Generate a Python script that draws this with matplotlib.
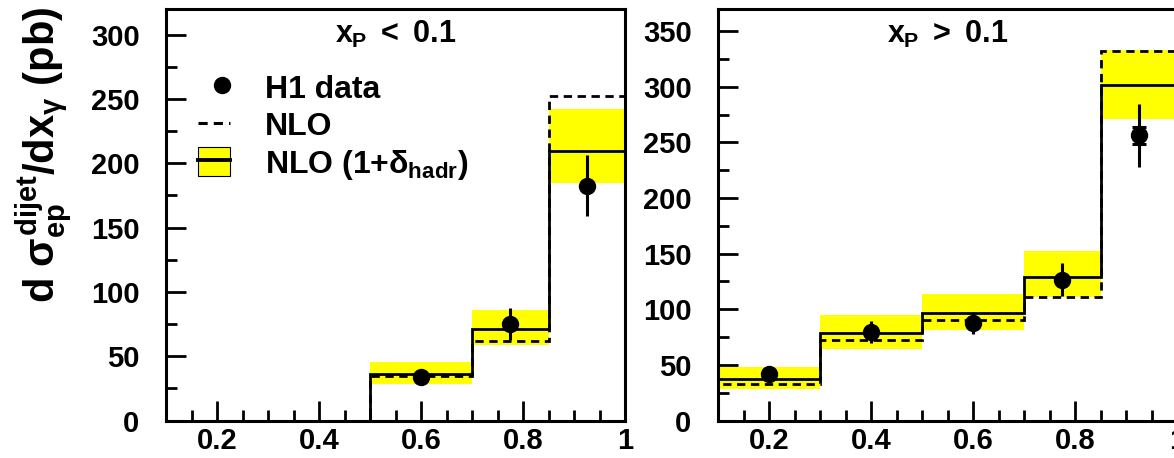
import numpy as np
import matplotlib
matplotlib.use("Agg")
import matplotlib.pyplot as plt
from matplotlib.patches import Patch
from matplotlib.lines import Line2D
from matplotlib.legend_handler import HandlerTuple
from matplotlib.ticker import MultipleLocator

plt.rcParams['font.family'] = ['Liberation Sans', 'DejaVu Sans']
plt.rcParams['font.weight'] = 'bold'
plt.rcParams['mathtext.fontset'] = 'custom'
plt.rcParams['mathtext.rm'] = 'Liberation Sans:bold'
plt.rcParams['mathtext.it'] = 'Liberation Sans:bold'
plt.rcParams['mathtext.bf'] = 'Liberation Sans:bold'
plt.rcParams['mathtext.sf'] = 'Liberation Sans'

# bin edges in x_gamma
edges = [0.1, 0.3, 0.5, 0.7, 0.85, 1.0]

# x_P < 0.1
lo_nlo = [0, 0, 34.6, 61.6, 252.3]
lo_had = [0, 0, 36.0, 71.2, 209.7]
lo_band_dn = [0, 0, 28.4, 58.8, 185.0]
lo_band_up = [0, 0, 45.8, 86.0, 242.4]
lo_x = [0.6, 0.775, 0.925]
lo_y = [33.8, 75.1, 182.5]
lo_err = [4.0, 12.5, 23.6]
lo_stat = [1.5, 2.0, 2.5]

# x_P > 0.1
hi_nlo = [33.0, 72.4, 90.0, 111.0, 331.8]
hi_had = [37.2, 78.7, 96.3, 128.7, 301.3]
hi_band_dn = [28.5, 64.5, 81.6, 111.0, 271.3]
hi_band_up = [48.3, 95.1, 113.4, 152.7, 332.8]
hi_x = [0.2, 0.4, 0.6, 0.775, 0.925]
hi_y = [42.0, 79.6, 87.7, 126.6, 256.3]
hi_err = [4.0, 10.0, 10.0, 15.0, 28.0]
hi_stat = [1.5, 2.0, 2.0, 2.5, 8.0]

fig = plt.figure(figsize=(11.74, 4.58), dpi=100)
W, H = 1174.0, 458.0
ax1 = fig.add_axes([166 / W, 1 - 420.5 / H, 459 / W, 411.5 / H])
ax2 = fig.add_axes([718 / W, 1 - 420.5 / H, 459 / W, 411.5 / H])


def draw(ax, nlo, had, dn, up, x, y, err, stat, ymax, title):
    ax.stairs(up, edges, baseline=dn, fill=True, color='#ffff00', lw=0, zorder=1)
    ax.stairs(nlo, edges, color='black', lw=2.0, ls=(0, (3, 2)), zorder=2)
    ax.stairs(had, edges, color='black', lw=2.0, zorder=3)
    ax.errorbar(x, y, yerr=err, fmt='none', ecolor='black', elinewidth=2.2, zorder=4)
    ax.errorbar(x, y, yerr=stat, fmt='none', ecolor='black', elinewidth=2.2,
                capsize=5, capthick=2.2, zorder=4)
    ax.plot(x, y, 'o', color='black', ms=11.5, zorder=5)
    ax.set_xlim(0.1, 1.0)
    ax.set_ylim(0, ymax)
    ax.xaxis.set_major_locator(MultipleLocator(0.2))
    ax.xaxis.set_minor_locator(MultipleLocator(0.05))
    ax.yaxis.set_major_locator(MultipleLocator(50))
    ax.yaxis.set_minor_locator(MultipleLocator(25))
    ax.set_xticks([0.2, 0.4, 0.6, 0.8, 1.0])
    ax.set_xticklabels(['0.2', '0.4', '0.6', '0.8', '1'])
    ax.tick_params(which='both', direction='in', top=False, right=False,
                   width=2, labelsize=21)
    ax.tick_params(which='major', length=14.5)
    ax.tick_params(which='minor', length=7.7)
    ax.tick_params(axis='y', pad=19)
    ax.tick_params(axis='x', pad=5)
    for s in ax.spines.values():
        s.set_linewidth(2.2)
    ax.text(0.5, 0.918, title, transform=ax.transAxes, ha='center',
            va='baseline', fontsize=22)


draw(ax1, lo_nlo, lo_had, lo_band_dn, lo_band_up, lo_x, lo_y, lo_err, lo_stat,
     320, r"$x_P$ $\mathsf{<}$ 0.1")
draw(ax2, hi_nlo, hi_had, hi_band_dn, hi_band_up, hi_x, hi_y, hi_err, hi_stat,
     370, r"$x_P$ $\mathsf{>}$ 0.1")

fig.text(44 / W, 1 - 155 / H, r"d $\sigma_{ep}^{dijet}$/dx$_{\gamma}$ (pb)",
         rotation=90, ha='center', va='center', fontsize=30)

h_data = (Line2D([], [], ls='none'),
          Line2D([], [], ls='none', marker='o', color='black', ms=11.5))
h_nlo = Line2D([], [], color='black', lw=2.2, ls=(0, (3, 2)))
h_had = (Patch(facecolor='#ffff00', edgecolor='black', lw=0.8),
         Line2D([], [], color='black', lw=2.8))
ax1.legend([h_data, h_nlo, h_had], ['H1 data', 'NLO', r'NLO (1+$\delta_{hadr}$)'],
           handler_map={h_data: HandlerTuple(ndivide=2, pad=0),
                        h_had: HandlerTuple(ndivide=1, pad=0)},
           loc='upper left', bbox_to_anchor=(0.07, 0.845), frameon=False,
           fontsize=23, handlelength=1.0, handleheight=1.0, handletextpad=1.1,
           labelspacing=0.16, borderpad=0, borderaxespad=0, numpoints=1)

fig.savefig('out.png', dpi=100)
